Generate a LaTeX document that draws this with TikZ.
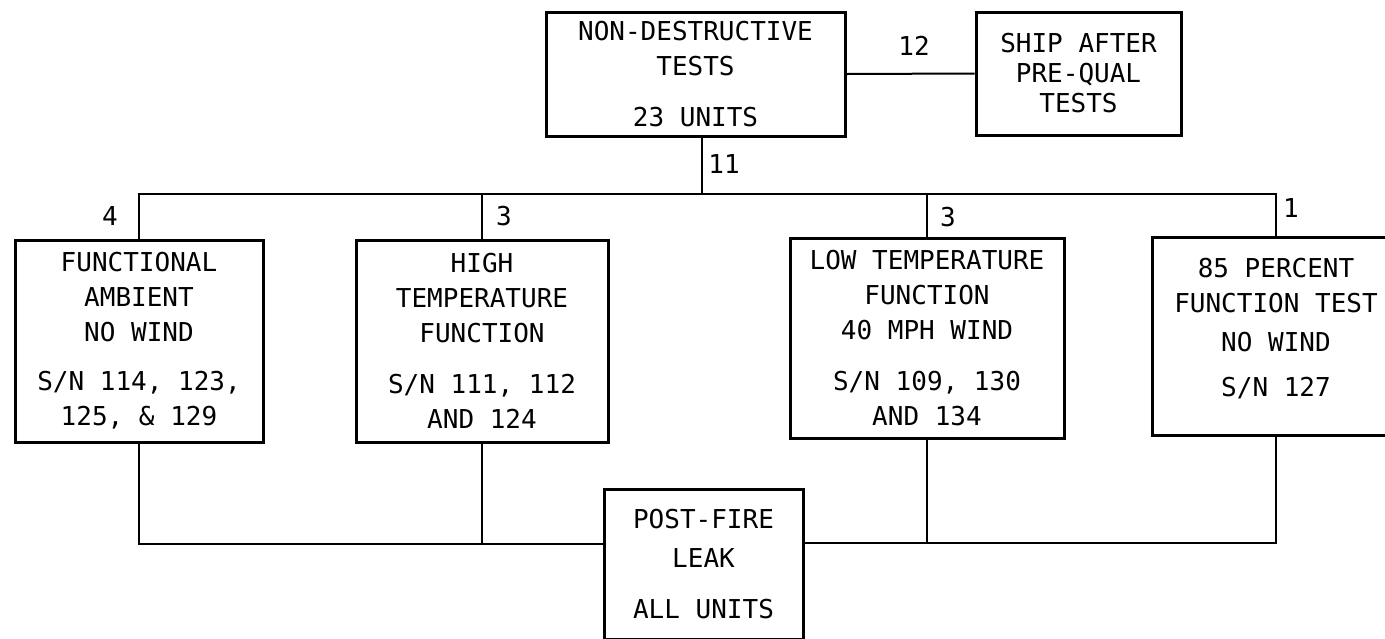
\documentclass[tikz,border=0pt]{standalone}
\usepackage{fontspec}
\setmonofont{DejaVu Sans Mono}
\usepackage{tikz}

\begin{document}
\begin{tikzpicture}[x=0.5pt, y=-0.5pt, line width=1pt,
        font=\ttfamily\fontsize{13}{17.5}\selectfont,
        testbox/.style={draw, line width=1.5pt, align=center, inner sep=0pt}]
            \useasboundingbox (0,0) rectangle (1385,638);
            \clip (0,0) rectangle (1385,638);
            % top row
            \node[testbox, minimum width=149.5pt, minimum height=62pt] (ndt) at (695.5,74)
                {NON-DESTRUCTIVE\\TESTS\\[8pt]23 UNITS};
            \node[testbox, minimum width=102.5pt, minimum height=61.5pt,
                font=\ttfamily\fontsize{13}{15}\selectfont] (ship) at (1078.5,73.5)
                {SHIP AFTER\\PRE-QUAL\\TESTS};
            % test boxes
            \node[testbox, minimum width=124pt, minimum height=101pt] (f1) at (139,341)
                {FUNCTIONAL\\AMBIENT\\NO WIND\\[7pt]S/N 114, 123,\\ 125, \& 129};
            \node[testbox, minimum width=126pt, minimum height=101pt] (f2) at (482,341)
                {HIGH\\TEMPERATURE\\FUNCTION\\[8pt]S/N 111, 112\\AND 124};
            \node[testbox, minimum width=137pt, minimum height=100pt] (f3) at (927,338)
                {LOW TEMPERATURE\\FUNCTION\\40 MPH WIND\\[8pt]S/N 109, 130\\AND 134};
            \node[testbox, minimum width=124pt, minimum height=99pt] (f4) at (1276,336)
                {85 PERCENT\\FUNCTION TEST\\[2pt]NO WIND\\[5pt]S/N 127\rule[-9pt]{0pt}{1pt}};
            \node[testbox, minimum width=99.5pt, minimum height=75pt] (post) at (703.5,564)
                {POST-FIRE\\[2pt]LEAK\\[8pt]ALL UNITS};
            % connectors
            \coordinate (bus) at (702,194);
            \draw (ndt.south) ++(6,0) coordinate (drop) -- (drop |- bus);
            \draw (ndt.east) -- (ship.west);
            \draw (f1.north) |- (bus) -| (f4.north);
            \draw (f2.north) -- (f2.north |- bus);
            \draw (f3.north) -- (f3.north |- bus);
            \draw (f1.south) |- (post.169);
            \draw (f2.south) -- (f2.south |- post.169);
            \draw (post.12) -| (f4.south);
            \draw (f3.south) -- (f3.south |- post.12);
            % counts
            \node (n12) at (914,46) {12};
            \node (n11) at (724,164) {11};
            \node (n4) at (110,216) {4};
            \node (n3a) at (504,216) {3};
            \node (n3b) at (948,217) {3};
            \node (n1) at (1291,208) {1};
        \end{tikzpicture}
\end{document}
